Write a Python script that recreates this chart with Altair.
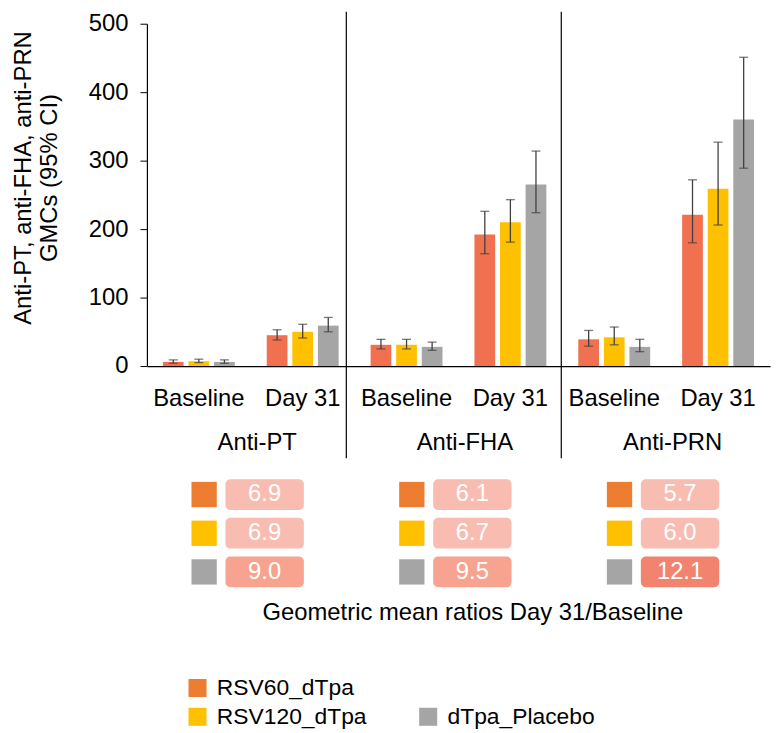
import altair as alt
import pandas as pd

FONT = "Liberation Sans"

panels = ["Anti-PT", "Anti-FHA", "Anti-PRN"]
timepoints = ["Baseline", "Day 31"]
groups = ["RSV60_dTpa", "RSV120_dTpa", "dTpa_Placebo"]

# GMC values, order: PT-Baseline, PT-Day31, FHA-Baseline, FHA-Day31, PRN-Baseline, PRN-Day31
gmc_rsv60 = [6, 45, 31, 192, 39, 221]
gmc_rsv120 = [7, 50, 31, 210, 42, 259]
gmc_placebo = [6, 59, 28, 265, 28, 360]

lo_rsv60 = [4, 38, 25, 164, 29, 180]
lo_rsv120 = [5, 41, 25, 181, 31, 206]
lo_placebo = [4, 50, 23, 224, 21, 289]

hi_rsv60 = [9, 53, 39, 226, 52, 272]
hi_rsv120 = [10, 61, 39, 243, 57, 327]
hi_placebo = [9, 71, 35, 314, 39, 451]

# Geometric mean ratios Day 31 / Baseline, per panel
gmr_rsv60 = [6.9, 6.1, 5.7]
gmr_rsv120 = [6.9, 6.7, 6.0]
gmr_placebo = [9.0, 9.5, 12.1]

bar_colors = ["#F0704F", "#FFC000", "#A5A5A5"]
key_colors = ["#ED7D31", "#FFC000", "#A5A5A5"]

slots = [f"{p}|{t}" for p in panels for t in timepoints]

rows = []
for g, gm, lo, hi in zip(groups, [gmc_rsv60, gmc_rsv120, gmc_placebo],
                         [lo_rsv60, lo_rsv120, lo_placebo],
                         [hi_rsv60, hi_rsv120, hi_placebo]):
    for s, v, l, h in zip(slots, gm, lo, hi):
        rows.append({"slot": s, "group": g, "gmc": v, "lo": l, "hi": h})
bars_df = pd.DataFrame(rows)

W = 628
H = 345

x_enc = alt.X("slot:N",
              scale=alt.Scale(domain=slots, paddingInner=0, paddingOuter=0),
              axis=alt.Axis(title=None, labelExpr="split(datum.label, '|')[1]",
                            labelFontSize=24, labelColor="#000", labelFont=FONT,
                            ticks=False, labelPadding=21, domainColor="#000",
                            domainWidth=1.2, labelAngle=0))
xoff = alt.XOffset("group:N", scale=alt.Scale(domain=groups, paddingInner=0.19, paddingOuter=0.625))

base = alt.Chart(bars_df)

bars = base.mark_bar().encode(
    x=x_enc,
    xOffset=xoff,
    y=alt.Y("gmc:Q", scale=alt.Scale(domain=[0, 500], nice=False),
            axis=alt.Axis(values=[0, 100, 200, 300, 400, 500], grid=False,
                          title=["Anti-PT, anti-FHA, anti-PRN", "GMCs (95% CI)"],
                          titleFontSize=24, titleFontWeight="normal", titleColor="#000",
                          titleFont=FONT, titleLineHeight=26, titlePadding=27, titleY=155,
                          labelFontSize=24, labelColor="#000", labelFont=FONT,
                          labelPadding=12, tickSize=7, tickColor="#000",
                          domainColor="#000", domainWidth=1.2)),
    color=alt.Color("group:N", scale=alt.Scale(domain=groups, range=bar_colors), legend=None),
)

err = base.mark_rule(color="#404040", strokeWidth=1.3).encode(
    x="slot:N", xOffset=xoff, y="lo:Q", y2="hi:Q")
cap_lo = base.mark_tick(color="#404040", size=9, thickness=1.3, orient="horizontal").encode(
    x="slot:N", xOffset=xoff, y="lo:Q")
cap_hi = base.mark_tick(color="#404040", size=9, thickness=1.3, orient="horizontal").encode(
    x="slot:N", xOffset=xoff, y="hi:Q")

sep1 = alt.Chart(pd.DataFrame({"slot": [f"{panels[0]}|{timepoints[1]}"]})).mark_rule(
    color="#000", strokeWidth=1.2).encode(
    x=alt.X("slot:N", bandPosition=0.92),
    y=alt.value(-12), y2=alt.value(H + 93))
sep2 = alt.Chart(pd.DataFrame({"slot": [f"{panels[1]}|{timepoints[1]}"]})).mark_rule(
    color="#000", strokeWidth=1.2).encode(
    x=alt.X("slot:N", bandPosition=0.99),
    y=alt.value(-12), y2=alt.value(H + 93))

lab_df = pd.DataFrame({"slot": [f"{p}|{timepoints[0]}" for p in panels], "panel": panels})
panel_labels = alt.Chart(lab_df).mark_text(fontSize=24, font=FONT, color="#000",
                                            baseline="alphabetic", dx=6.5).encode(
    x=alt.X("slot:N", bandPosition=1),
    y=alt.value(H + 85),
    text="panel:N")

top = alt.layer(bars, err, cap_lo, cap_hi, sep1, sep2, panel_labels).properties(width=W, height=H)

# GMR table
trows = []
for g, vals in zip(groups, [gmr_rsv60, gmr_rsv120, gmr_placebo]):
    for p, v in zip(panels, vals):
        trows.append({"panel": p, "group": g, "gmr": v, "txt": f"{v:.1f}"})
table_df = pd.DataFrame(trows)

tx = alt.X("panel:N", scale=alt.Scale(type="band", domain=panels, paddingInner=0, paddingOuter=0),
           axis=alt.Axis(labels=False, ticks=False, domain=False,
                         title="Geometric mean ratios Day 31/Baseline",
                         titleFontSize=24, titleFontWeight="normal", titleColor="#000",
                         titleFont=FONT, titlePadding=9, titleX=328))
ty = alt.Y("group:N", scale=alt.Scale(type="band", domain=groups, paddingInner=0, paddingOuter=0),
           axis=None)

tbase = alt.Chart(table_df)
keys = tbase.mark_square(size=650, opacity=1, xOffset=-47).encode(
    x=tx, y=ty,
    color=alt.Color("group:N", scale=alt.Scale(domain=groups, range=key_colors), legend=None))
boxes = tbase.mark_rect(width=79, height=31, cornerRadius=5, xOffset=14).encode(
    x=tx, y=ty,
    fill=alt.Fill("gmr:Q", scale=alt.Scale(type="threshold", domain=[8, 11],
                                            range=["#F9BCB1", "#F7A390", "#F2836E"]),
                  legend=None))
btxt = tbase.mark_text(fontSize=24, font=FONT, color="white", xOffset=14).encode(
    x=tx, y=ty, text="txt:N")

table = alt.layer(keys, boxes, btxt).properties(width=W, height=117)

# Legend
leg_df = pd.DataFrame({"group": groups, "col": ["c0", "c0", "c1"], "row": ["r0", "r1", "r1"]})
lx = alt.X("col:N", bandPosition=0,
           scale=alt.Scale(type="band", domain=["c0", "c1"], paddingInner=0,
                           paddingOuter=0.3505, align=0),
           axis=None)
ly = alt.Y("row:N", bandPosition=0.5,
           scale=alt.Scale(type="band", domain=["r0", "r1"], paddingInner=0,
                           paddingOuter=0.586, align=1),
           axis=None)
lbase = alt.Chart(leg_df)
lsq = lbase.mark_square(size=330, opacity=1, xOffset=51).encode(
    x=lx, y=ly,
    color=alt.Color("group:N", scale=alt.Scale(domain=groups, range=key_colors), legend=None))
ltxt = lbase.mark_text(fontSize=23, font=FONT, color="#000", align="left", xOffset=70.5).encode(
    x=lx, y=ly, text="group:N")
legend = alt.layer(lsq, ltxt).properties(width=W, height=92)

chart = alt.vconcat(top, table, legend, spacing=16).resolve_scale(
    x="independent", y="independent", color="independent"
).properties(
    padding={"left": 3, "top": 0, "right": 2, "bottom": 0}
).configure(font=FONT, view=alt.ViewConfig(stroke=None))

chart.save("out.html", embed_options={"renderer": "svg", "actions": False})
